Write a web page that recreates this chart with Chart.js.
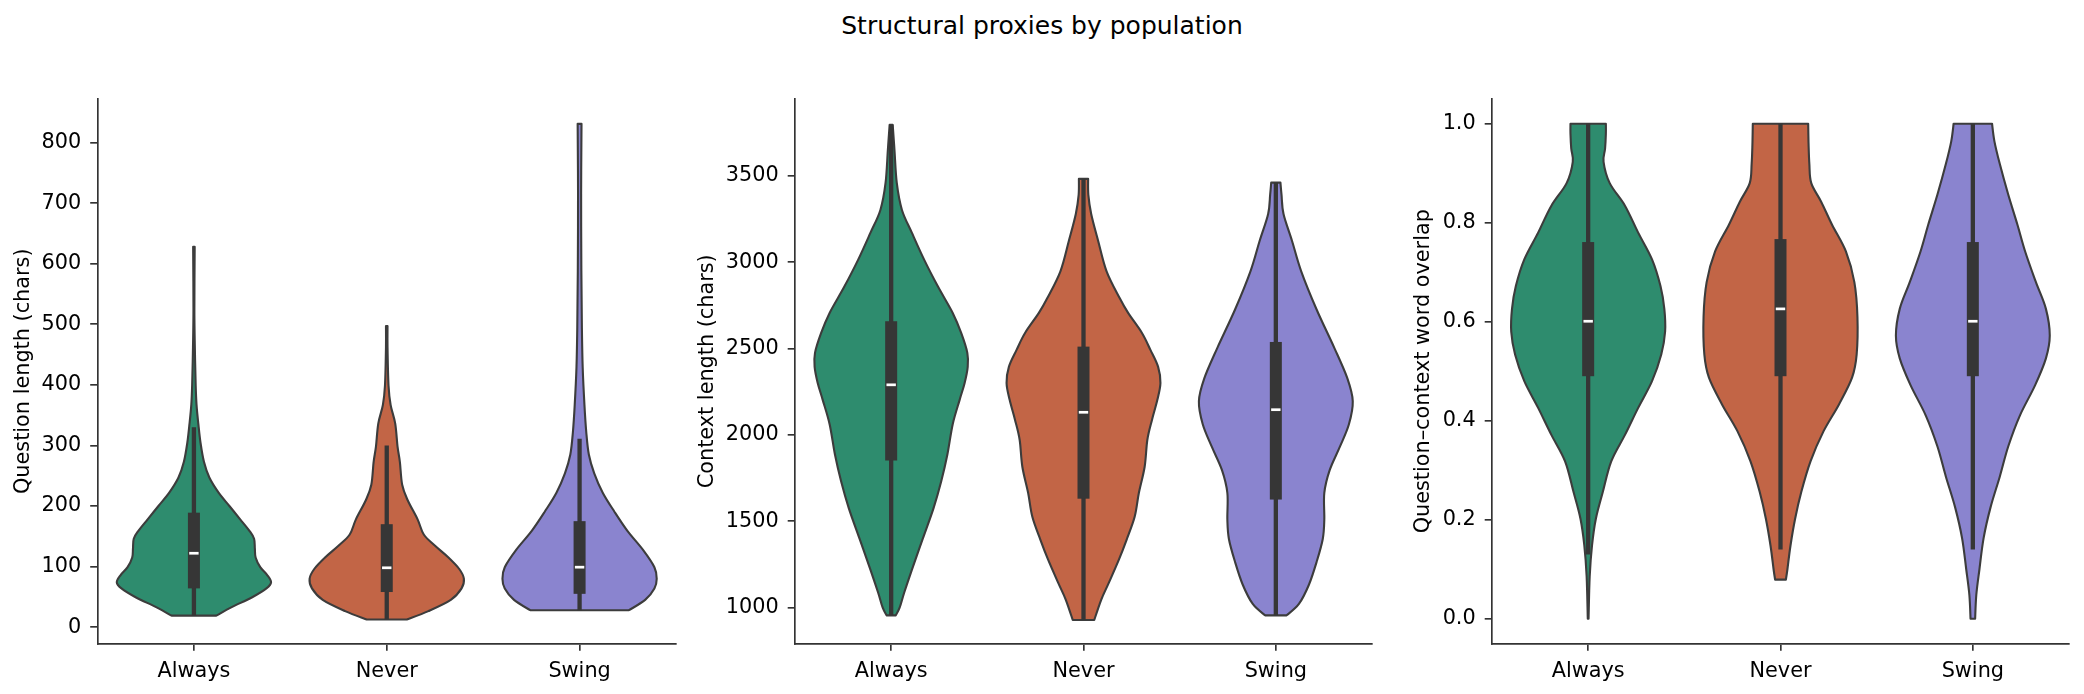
<!DOCTYPE html>
<html>
<head>
<meta charset="utf-8">
<script src="https://cdn.jsdelivr.net/npm/chart.js@4.4.1/dist/chart.umd.min.js"></script>
<style>
html, body { margin: 0; padding: 0; background: #fff; }
#page { position: relative; width: 2084px; height: 694px; overflow: hidden; }
#suptitle { position: absolute; left: 0; top: 13px; width: 2084px; text-align: center;
  font: 25px/25px "DejaVu Sans"; color: #000; }
.panel { position: absolute; top: 0; height: 694px; }
</style>
</head>
<body>
<div id="page">
	<div id="suptitle">Structural proxies by population</div>
	<div class="panel" style="left:0px"><canvas id="qlenChart" width="690" height="694"></canvas></div>
	<div class="panel" style="left:690px"><canvas id="ctxChart" width="694" height="694"></canvas></div>
	<div class="panel" style="left:1384px"><canvas id="overlapChart" width="700" height="694"></canvas></div>
</div>
<script>
const categories = ["Always", "Never", "Swing"];
const colors = ["#2e8c6e", "#c26546", "#8a84cf"];

// question length: density outlines (value levels + relative width)
const qlenAlwaysLevels = [19, 33, 49, 64, 74, 86, 99, 115, 130, 146, 159, 178, 200, 222, 247, 273, 304, 336, 367, 399, 462, 525, 628];
const qlenAlwaysDensity = [0.29, 0.49, 0.75, 0.94, 1.0, 0.95, 0.86, 0.80, 0.79, 0.78, 0.72, 0.60, 0.46, 0.32, 0.20, 0.13, 0.086, 0.057, 0.034, 0.023, 0.012, 0.006, 0.01];
const qlenNeverLevels = [12.6, 26.5, 45, 64, 80, 96, 115, 134, 153, 178, 210, 235, 273, 298, 336, 367, 399, 462, 497];
const qlenNeverDensity = [0.26, 0.54, 0.83, 0.97, 1.0, 0.94, 0.80, 0.63, 0.48, 0.40, 0.27, 0.20, 0.17, 0.14, 0.11, 0.05, 0.023, 0.01, 0.01];
const qlenSwingLevels = [28, 45, 64, 80, 99, 128, 159, 191, 222, 254, 285, 323, 367, 430, 494, 588, 715, 831];
const qlenSwingDensity = [0.64, 0.85, 0.97, 1.0, 0.97, 0.82, 0.62, 0.45, 0.30, 0.19, 0.12, 0.086, 0.063, 0.04, 0.03, 0.023, 0.02, 0.025];
const qlenQ1 = [64, 58, 55];
const qlenMedian = [122, 98, 99];
const qlenQ3 = [189, 170, 175];
const qlenWhiskerLow = [19, 12.6, 28];
const qlenWhiskerHigh = [330, 300, 311];
const qlenTicks = [0, 100, 200, 300, 400, 500, 600, 700, 800];

// context length
const ctxAlwaysLevels = [956, 1000, 1088, 1221, 1398, 1575, 1730, 1885, 2062, 2203, 2301, 2394, 2475, 2590, 2706, 2857, 3013, 3169, 3302, 3458, 3649, 3794];
const ctxAlwaysDensity = [0.06, 0.11, 0.17, 0.27, 0.41, 0.55, 0.65, 0.73, 0.80, 0.89, 0.955, 0.995, 0.99, 0.91, 0.80, 0.61, 0.43, 0.27, 0.14, 0.073, 0.043, 0.02];
const ctxNeverLevels = [929, 1046, 1145, 1278, 1393, 1526, 1665, 1816, 1972, 2087, 2203, 2301, 2394, 2492, 2590, 2706, 2792, 2947, 3124, 3279, 3389, 3482];
const ctxNeverDensity = [0.14, 0.23, 0.33, 0.46, 0.56, 0.665, 0.72, 0.795, 0.83, 0.89, 0.96, 1.0, 0.97, 0.87, 0.76, 0.58, 0.47, 0.30, 0.19, 0.10, 0.063, 0.06];
const ctxSwingLevels = [956, 1022, 1133, 1265, 1398, 1509, 1664, 1796, 1929, 2062, 2195, 2327, 2504, 2726, 2947, 3124, 3279, 3389, 3460];
const ctxSwingDensity = [0.14, 0.30, 0.43, 0.53, 0.61, 0.63, 0.63, 0.70, 0.83, 0.95, 1.0, 0.93, 0.76, 0.53, 0.33, 0.21, 0.10, 0.074, 0.06];
const ctxQ1 = [1852, 1631, 1626];
const ctxMedian = [2290, 2131, 2146];
const ctxQ3 = [2658, 2511, 2538];
const ctxWhiskerLow = [956, 929, 956];
const ctxWhiskerHigh = [3794, 3482, 3460];
const ctxTicks = [1000, 1500, 2000, 2500, 3000, 3500];

// question-context word overlap
const overlapAlwaysLevels = [0.0, 0.086, 0.148, 0.202, 0.256, 0.318, 0.372, 0.426, 0.48, 0.534, 0.58, 0.626, 0.672, 0.726, 0.78, 0.834, 0.88, 0.923, 0.95, 0.98, 1.0];
const overlapAlwaysDensity = [0.005, 0.02, 0.05, 0.10, 0.19, 0.30, 0.48, 0.65, 0.83, 0.95, 1.0, 0.99, 0.94, 0.83, 0.65, 0.48, 0.28, 0.20, 0.22, 0.23, 0.23];
const overlapNeverLevels = [0.079, 0.10, 0.148, 0.202, 0.256, 0.318, 0.379, 0.433, 0.487, 0.534, 0.61, 0.68, 0.742, 0.796, 0.842, 0.88, 0.919, 0.958, 1.0];
const overlapNeverDensity = [0.07, 0.09, 0.13, 0.19, 0.27, 0.39, 0.56, 0.76, 0.93, 0.99, 1.0, 0.96, 0.85, 0.67, 0.53, 0.40, 0.375, 0.365, 0.36];
const overlapSwingLevels = [0.0, 0.048, 0.10, 0.163, 0.225, 0.287, 0.348, 0.41, 0.472, 0.526, 0.572, 0.626, 0.68, 0.742, 0.796, 0.857, 0.919, 0.965, 1.0];
const overlapSwingDensity = [0.03, 0.045, 0.086, 0.14, 0.23, 0.35, 0.46, 0.61, 0.81, 0.95, 1.0, 0.95, 0.82, 0.68, 0.58, 0.46, 0.35, 0.28, 0.25];
const overlapQ1 = [0.49, 0.49, 0.49];
const overlapMedian = [0.601, 0.626, 0.601];
const overlapQ3 = [0.761, 0.767, 0.761];
const overlapWhiskerLow = [0.13, 0.14, 0.14];
const overlapWhiskerHigh = [1.0, 1.0, 1.0];
const overlapTicks = [0, 0.2, 0.4, 0.6, 0.8, 1.0];

const font = "DejaVu Sans";

// Catmull-Rom through pixel points, current point must be pts[0]
function spline(ctx, pts) {
	for (let i = 0; i < pts.length - 1; i++) {
		const p0 = pts[i - 1] || pts[i];
		const p1 = pts[i];
		const p2 = pts[i + 1];
		const p3 = pts[i + 2] || p2;
		ctx.bezierCurveTo(
			p1[0] + (p2[0] - p0[0]) / 6, p1[1] + (p2[1] - p0[1]) / 6,
			p2[0] - (p3[0] - p1[0]) / 6, p2[1] - (p3[1] - p1[1]) / 6,
			p2[0], p2[1]);
	}
}

const violinPlugin = {
	id: "violins",
	afterDatasetsDraw(chart, args, opts) {
		const { ctx, scales: { x, y } } = chart;
		const half = (x.getPixelForValue(1) - x.getPixelForValue(0)) * 0.4;
		opts.shapes.forEach((shape, i) => {
			const cx = x.getPixelForValue(i);
			const right = shape.levels.map((v, k) => [cx + shape.density[k] * half, y.getPixelForValue(v)]);
			const left = shape.levels.map((v, k) => [cx - shape.density[k] * half, y.getPixelForValue(v)]).reverse();

			ctx.save();
			ctx.beginPath();
			ctx.moveTo(right[0][0], right[0][1]);
			spline(ctx, right);
			ctx.lineTo(left[0][0], left[0][1]);
			spline(ctx, left);
			ctx.closePath();
			ctx.fillStyle = colors[i];
			ctx.fill();
			ctx.lineWidth = 2.1;
			ctx.lineJoin = "round";
			ctx.strokeStyle = "#3c3c3c";
			ctx.stroke();

			// whisker
			ctx.lineCap = "butt";
			ctx.strokeStyle = "#363636";
			ctx.lineWidth = 4.3;
			ctx.beginPath();
			ctx.moveTo(cx, y.getPixelForValue(opts.whiskerLow[i]));
			ctx.lineTo(cx, y.getPixelForValue(opts.whiskerHigh[i]));
			ctx.stroke();

			// box
			const yq1 = y.getPixelForValue(opts.q1[i]);
			const yq3 = y.getPixelForValue(opts.q3[i]);
			ctx.fillStyle = "#363636";
			ctx.fillRect(cx - 6, yq3, 12, yq1 - yq3);

			// median
			const ym = y.getPixelForValue(opts.median[i]);
			ctx.strokeStyle = "#ffffff";
			ctx.lineWidth = 2.7;
			ctx.beginPath();
			ctx.moveTo(cx - 4.7, ym);
			ctx.lineTo(cx + 4.7, ym);
			ctx.stroke();
			ctx.restore();
		});
	}
};

function makePanel(id, cfg) {
	return new Chart(document.getElementById(id), {
		type: "line",
		data: { labels: categories, datasets: [] },
		plugins: [violinPlugin],
		options: {
			responsive: false,
			animation: false,
			events: [],
			layout: { padding: { top: 99, right: cfg.padRight, left: 0, bottom: 0 } },
			plugins: {
				legend: { display: false },
				tooltip: { enabled: false },
				violins: cfg.violins
			},
			scales: {
				x: {
					type: "category",
					offset: true,
					afterFit: s => { s.height = 50.5; },
					grid: { display: true, offset: false, drawOnChartArea: false, drawTicks: true, tickLength: 7.3, lineWidth: 1.67, color: "#333" },
					border: { display: true, color: "#333", width: 1.67 },
					ticks: { color: "#000", padding: 8, font: { family: font, size: 20.8 }, maxRotation: 0 }
				},
				y: {
					type: "linear",
					min: cfg.min,
					max: cfg.max,
					afterFit: s => { s.width = cfg.axisWidth; },
					afterBuildTicks: s => { s.ticks = cfg.ticks.map(v => ({ value: v })); },
					grid: { display: true, drawOnChartArea: false, drawTicks: true, tickLength: 7.3, lineWidth: 1.67, color: "#333" },
					border: { display: true, color: "#333", width: 1.67 },
					ticks: { color: "#000", padding: 9, font: { family: font, size: 20.8 }, callback: cfg.format },
					title: { display: true, text: cfg.title, color: "#000", font: { family: font, size: 20.8 }, padding: { top: cfg.titlePad, bottom: 0 } }
				}
			}
		}
	});
}

window.addEventListener("DOMContentLoaded", () => {
	makePanel("qlenChart", {
		min: -27, max: 872, ticks: qlenTicks, axisWidth: 97.5, padRight: 14, titlePad: 11,
		title: "Question length (chars)",
		format: v => String(v),
		violins: {
			shapes: [
				{ levels: qlenAlwaysLevels, density: qlenAlwaysDensity },
				{ levels: qlenNeverLevels, density: qlenNeverDensity },
				{ levels: qlenSwingLevels, density: qlenSwingDensity }
			],
			q1: qlenQ1, median: qlenMedian, q3: qlenQ3, whiskerLow: qlenWhiskerLow, whiskerHigh: qlenWhiskerHigh
		}
	});

	makePanel("ctxChart", {
		min: 793, max: 3944, ticks: ctxTicks, axisWidth: 105, padRight: 12, titlePad: 5.5,
		title: "Context length (chars)",
		format: v => String(v),
		violins: {
			shapes: [
				{ levels: ctxAlwaysLevels, density: ctxAlwaysDensity },
				{ levels: ctxNeverLevels, density: ctxNeverDensity },
				{ levels: ctxSwingLevels, density: ctxSwingDensity }
			],
			q1: ctxQ1, median: ctxMedian, q3: ctxQ3, whiskerLow: ctxWhiskerLow, whiskerHigh: ctxWhiskerHigh
		}
	});

	makePanel("overlapChart", {
		min: -0.05, max: 1.05, ticks: overlapTicks, axisWidth: 108, padRight: 15, titlePad: 27.5,
		title: "Question\u2013context word overlap",
		format: v => Number(v).toFixed(1),
		violins: {
			shapes: [
				{ levels: overlapAlwaysLevels, density: overlapAlwaysDensity },
				{ levels: overlapNeverLevels, density: overlapNeverDensity },
				{ levels: overlapSwingLevels, density: overlapSwingDensity }
			],
			q1: overlapQ1, median: overlapMedian, q3: overlapQ3, whiskerLow: overlapWhiskerLow, whiskerHigh: overlapWhiskerHigh
		}
	});
});
</script>
</body>
</html>
